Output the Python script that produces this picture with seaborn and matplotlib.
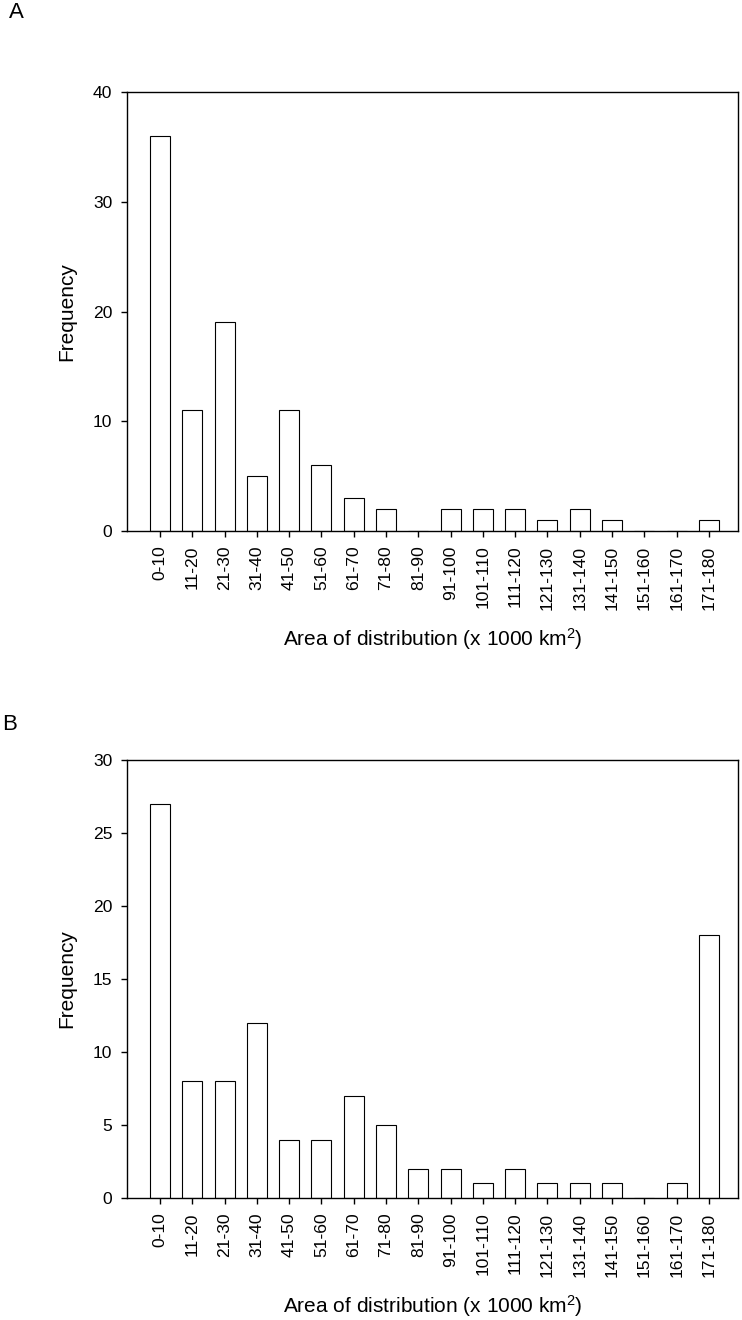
import matplotlib
matplotlib.use("Agg")
import matplotlib.pyplot as plt
import seaborn as sns

categories = ["0-10", "11-20", "21-30", "31-40", "41-50", "51-60", "61-70", "71-80",
              "81-90", "91-100", "101-110", "111-120", "121-130", "131-140", "141-150",
              "151-160", "161-170", "171-180"]
freq_a = [36, 11, 19, 5, 11, 6, 3, 2, 0, 2, 2, 2, 1, 2, 1, 0, 0, 1]
freq_b = [27, 8, 8, 12, 4, 4, 7, 5, 2, 2, 1, 2, 1, 1, 1, 0, 1, 18]
yticks_a = [0, 10, 20, 30, 40]
yticks_b = [0, 5, 10, 15, 20, 25, 30]
xlabel = "Area of distribution (x 1000 km$^2$)"
ylabel = "Frequency"

sns.set_style("ticks")
plt.rcParams["font.family"] = ["Liberation Sans", "DejaVu Sans"]
plt.rcParams["mathtext.fontset"] = "custom"
plt.rcParams["mathtext.rm"] = "Liberation Sans"
plt.rcParams["mathtext.it"] = "Liberation Sans:italic"
plt.rcParams["mathtext.bf"] = "Liberation Sans:bold"
plt.rcParams["text.color"] = "black"
plt.rcParams["axes.labelcolor"] = "black"
plt.rcParams["xtick.color"] = "black"
plt.rcParams["ytick.color"] = "black"

fig = plt.figure(figsize=(7.42, 13.2), dpi=100)
ax_a = fig.add_axes([127 / 742, 1 - 531 / 1320, 611 / 742, 439 / 1320])
ax_b = fig.add_axes([127 / 742, 1 - 1198 / 1320, 611 / 742, 438 / 1320])

for ax, vals, yt in [(ax_a, freq_a, yticks_a), (ax_b, freq_b, yticks_b)]:
    sns.barplot(x=categories, y=vals, ax=ax, color="white", saturation=1,
                edgecolor="black", linewidth=0.8, width=0.62)
    ax.set_xlim(-1.02, 17.9)
    ax.set_ylim(yt[0], yt[-1])
    ax.set_yticks(yt)
    ax.set_xticks(range(len(categories)))
    ax.set_xticklabels(categories, rotation=90, fontsize=12.6)
    ax.tick_params(axis="y", labelsize=12.6, length=4.5, width=1.0, pad=6,
                   color="black", labelcolor="black")
    ax.tick_params(axis="x", length=4.5, width=1.0, pad=6,
                   color="black", labelcolor="black")
    for s in ax.spines.values():
        s.set_visible(True)
        s.set_linewidth(1.0)
        s.set_color("black")
    ax.set_xlabel(xlabel, fontsize=15, labelpad=11.5, color="black")
    ax.set_ylabel(ylabel, fontsize=15, labelpad=12, color="black")

fig.text(9 / 742, 1 - 13 / 1320, "A", fontsize=16, ha="left", va="center", color="black")
fig.text(2 / 742, 1 - 725 / 1320, "B", fontsize=16, ha="left", va="center", color="black")

fig.savefig("out.png", dpi=100)
